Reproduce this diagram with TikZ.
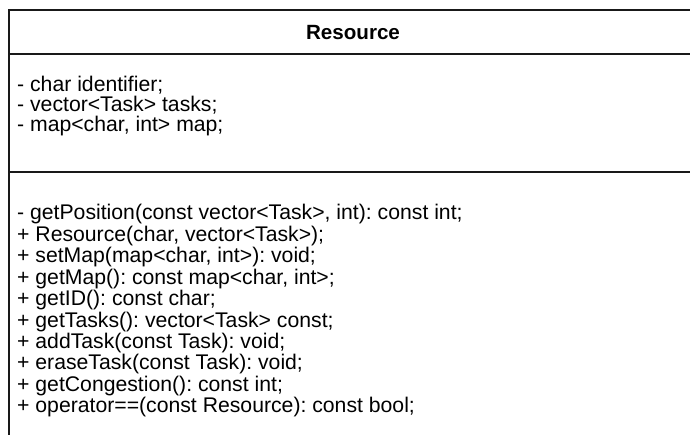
\documentclass[tikz,border=0pt]{standalone}
\usepackage{fontspec}
\setmainfont{Liberation Sans}
\begin{document}
\frenchspacing
\begin{tikzpicture}[x=1pt,y=-1pt,
  frame/.style={line width=2pt, draw=black!90},
  member/.style={anchor=base west, inner sep=0pt, font=\fontsize{21.2}{24}\selectfont},
  classname/.style={anchor=base, inner sep=0pt, font=\fontsize{20.6}{24}\selectfont\bfseries}]
\useasboundingbox (0,0) rectangle (690,435);
\fill[white] (0,0) rectangle (690,435);
% class box (runs past the right and bottom edges)
\begin{scope}
  \clip (0,0) rectangle (690,435);
  \draw[frame] (700,10) -- (9,10) -- (9,445);
  \draw[frame] (9,54) -- (700,54);
  \draw[frame] (9,172) -- (700,172);
\end{scope}
% class name
\node[classname] (title) at (353,40) {Resource};
% attributes
\node[member] (a1) at (17,92) {- char identifier;};
\node[member] (a2) at (17,112) {- vector<Task> tasks;};
\node[member] (a3) at (17,132) {- map<char, int> map;};
% operations
\foreach \txt [count=\i from 0] in {
  {- getPosition(const vector<Task>, int): const int;},
  {+ Resource(char, vector<Task>);},
  {+ setMap(map<char, int>): void;},
  {+ getMap(): const map<char, int>;},
  {+ getID(): const char;},
  {+ getTasks(): vector<Task> const;},
  {+ addTask(const Task): void;},
  {+ eraseTask(const Task): void;},
  {+ getCongestion(): const int;},
  {+ operator==(const Resource): const bool;}}
  \node[member] (m\i) at (17,{220+21.4*\i}) {\txt};
\end{tikzpicture}
\end{document}
